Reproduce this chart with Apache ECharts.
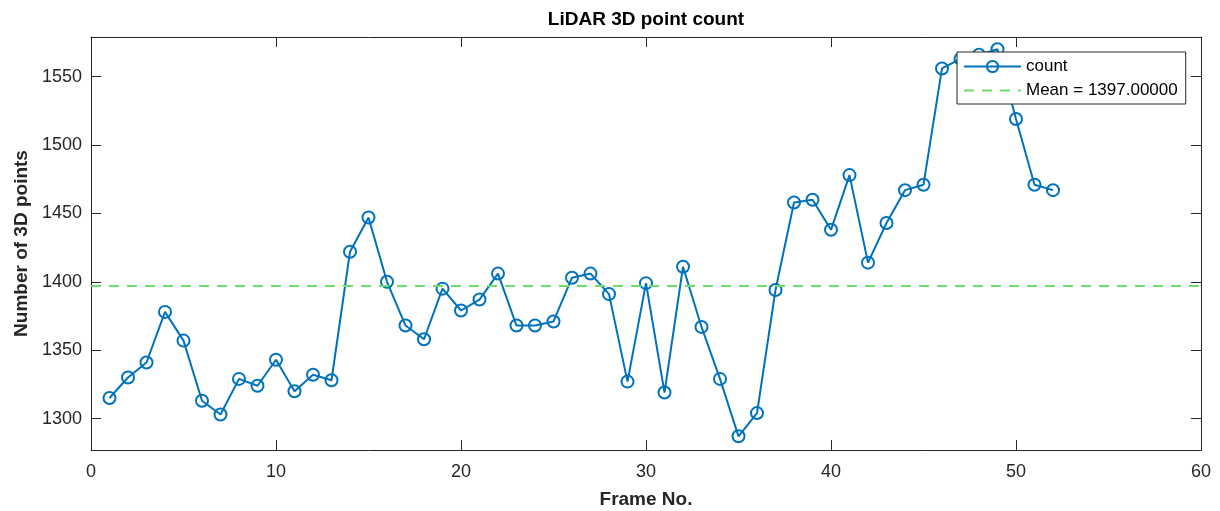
<!DOCTYPE html>
<html><head><meta charset="utf-8">
<script src="https://cdn.jsdelivr.net/npm/echarts@6/dist/echarts.min.js"></script>
<style>html,body{margin:0;padding:0;background:#fff}#c{width:1220px;height:511px}</style>
</head><body><div id="c"></div>
<script>
const frames = [1,2,3,4,5,6,7,8,9,10,11,12,13,14,15,16,17,18,19,20,21,22,23,24,25,26,
  27,28,29,30,31,32,33,34,35,36,37,38,39,40,41,42,43,44,45,46,47,48,49,50,51,52];
const counts = [1315,1330,1341,1378,1357,1313,1303,1329,1324,1343,
  1320,1332,1328,1422,1447,1400,1368,1358,1395,1379,
  1387,1406,1368,1368,1371,1403,1406,1391,1327,1399,
  1319,1411,1367,1329,1287,1304,1394,1458,1460,1438,
  1478,1414,1443,1467,1471,1556,1563,1566,1570,1519,1471,1467];
const meanValue = 1397;
const xTicks = [0,10,20,30,40,50,60];
const yTicks = [1300,1350,1400,1450,1500,1550];
const xRange = [0, 60];
const yRange = [1277, 1579];

const FONT = "'Liberation Sans', Arial, Helvetica, sans-serif";
const AX = '#262626';
const meanName = 'Mean = ' + meanValue.toFixed(5);

const chart = echarts.init(document.getElementById('c'), null, {renderer: 'canvas'});
const axLine = {show: true, onZero: false, lineStyle: {color: AX, width: 1}};
const tick = {show: true, inside: true, length: 10, lineStyle: {color: AX, width: 1}};
const plain = v => String(v);

chart.setOption({
  animation: false,
  backgroundColor: '#fff',
  title: {
    text: 'LiDAR 3D point count', left: 646, top: 10, textAlign: 'center', padding: 0,
    textStyle: {fontFamily: FONT, fontSize: 19, fontWeight: 'bold', color: '#000'}
  },
  grid: {left: 91, right: 19, top: 37, bottom: 61, containLabel: false, outerBoundsMode: 'none'},
  legend: {
    orient: 'vertical', left: 957, top: 52,
    data: [{name: 'count'},
           {name: meanName, itemStyle: {color: 'rgba(0,0,0,0)', borderWidth: 0, opacity: 0}}],
    itemWidth: 57, itemHeight: 14, itemGap: 7,
    padding: [6, 8, 5, 6],
    borderColor: AX, borderWidth: 1, backgroundColor: '#fff', borderRadius: 0,
    textStyle: {fontFamily: FONT, fontSize: 17, color: '#000'}
  },
  xAxis: [{
    type: 'value', min: xRange[0], max: xRange[1], interval: 10, position: 'bottom',
    axisLine: axLine, axisTick: tick, splitLine: {show: false},
    axisLabel: {fontFamily: FONT, fontSize: 18, color: AX, margin: 13,
      customValues: xTicks, formatter: plain},
    name: 'Frame No.', nameLocation: 'middle', nameGap: 40,
    nameTextStyle: {fontFamily: FONT, fontSize: 19, fontWeight: 'bold', color: AX}
  }, {
    type: 'value', min: xRange[0], max: xRange[1], interval: 10, position: 'top',
    axisLine: axLine, axisTick: tick, splitLine: {show: false}, axisLabel: {show: false}
  }],
  yAxis: [{
    type: 'value', min: yRange[0], max: yRange[1], position: 'left',
    axisLine: axLine, axisTick: Object.assign({}, tick, {customValues: yTicks}),
    splitLine: {show: false},
    axisLabel: {fontFamily: FONT, fontSize: 18, color: AX, margin: 9,
      customValues: yTicks, formatter: plain},
    name: 'Number of 3D points', nameLocation: 'middle', nameGap: 53, nameRotate: 90,
    nameTextStyle: {fontFamily: FONT, fontSize: 19, fontWeight: 'bold', color: AX}
  }, {
    type: 'value', min: yRange[0], max: yRange[1], position: 'right',
    axisLine: axLine, axisTick: Object.assign({}, tick, {customValues: yTicks}),
    splitLine: {show: false}, axisLabel: {show: false}
  }],
  series: [{
    name: 'count', type: 'line',
    data: frames.map((f, i) => [f, counts[i]]),
    symbol: 'circle', symbolSize: 12,
    lineStyle: {color: '#0072BD', width: 2},
    itemStyle: {color: 'rgba(255,255,255,0)', borderColor: '#0072BD', borderWidth: 2},
    emphasis: {disabled: true}, z: 2
  }, {
    name: meanName, type: 'line',
    data: [[xRange[0], meanValue], [xRange[1], meanValue]],
    symbol: 'none',
    lineStyle: {color: '#6ddc6d', width: 2, type: [10, 8]},
    itemStyle: {color: '#6ddc6d'},
    emphasis: {disabled: true}, z: 3
  }]
});
</script></body></html>
